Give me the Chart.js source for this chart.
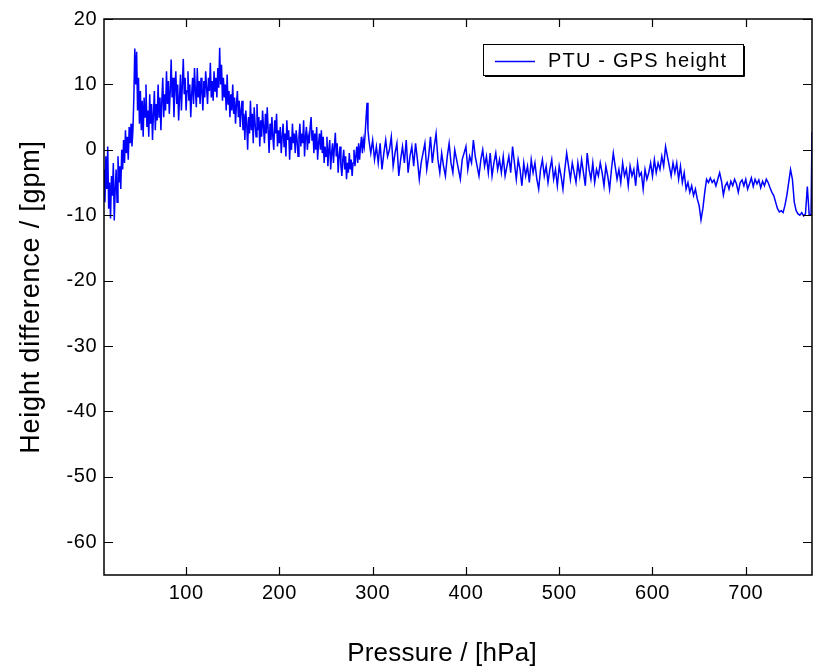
<!DOCTYPE html>
<html><head><meta charset="utf-8">
<script src="https://cdn.jsdelivr.net/npm/chart.js@4/dist/chart.umd.min.js"></script>
<style>html,body{margin:0;padding:0;background:#fff;}#wrap{width:817px;height:667px;}</style>
</head><body><div id="wrap"><canvas id="c" width="817" height="667"></canvas></div>
<script>
const pressure = [
12,13,14,15,16,17,18,19,20,21,22,23,24,25,26,27,28,29,30,31,32,33,34,35,36,37,38,39,40,
41,42,43,44,45,46,47,48,49,50,51,52,53,54,55,56,57,58,59,60,61,62,63,64,65,66,67,68,69,70,71,72,73,74,75,76,77,78,79,
80,81,82,83,84,85,86,87,88,89,90,91,92,93,94,95,96,97,98,99,100,101,102,103,104,105,106,107,108,109,110,111,112,113,114,115,116,117,118,119,
120,121,122,123,124,125,126,127,128,129,130,131,132,133,134,135,136,137,138,139,140,141,142,143,144,145,146,147,148,149,150,151,152,153,154,155,156,157,158,
159,160,161,162,163,164,165,166,167,168,169,170,171,172,173,174,175,176,177,178,179,180,181,182,183,184,185,186,187,188,189,190,191,192,193,194,195,196,197,198,199,200,
201,202,203,204,205,206,207,208,209,210,211,212,213,214,215,216,217,218,219,220,221,222,223,224,225,226,227,228,229,230,231,232,233,234,235,236,237,238,239,240,241,242,243,244,245,246,247,
248,249,250,251,252,253,254,255,256,257,258,259,260,261,262,263,264,265,266,267,268,269,270,271,272,273,274,275,276,277,278,279,280,281,282,283,284,285,286,287,288,289,290,291,292,293,294,295,296,
298,300,302,304,306,308,310,312,314,316,318,320,322,324,326,328,330,332,334,336,338,340,342,344,346,348,350,352,354,356,358,360,362,364,366,368,
370,372,374,376,378,380,382,384,386,388,390,392,394,396,398,400,402,404,406,408,410,412,414,416,418,420,422,424,426,428,430,432,434,436,
438,440,442,444,446,448,450,452,454,456,458,460,462,464,466,468,470,472,474,476,478,480,482,484,486,488,490,492,494,496,498,500,502,504,506,508,
510,512,514,516,518,520,522,524,526,528,530,532,534,536,538,540,542,544,546,548,550,552,554,556,558,560,562,564,566,568,570,572,574,576,578,580,582,584,586,588,590,592,594,596,
598,600,602,604,606,608,610,612,614,616,618,620,622,624,626,628,630,
632,634,636,638,640,642,644,646,648,650,652,654,656,658,660,
662,664,666,668,670,672,674,676,678,680,682,684,686,688,690,692,694,696,698,700,702,704,706,708,710,712,714,716,718,720,722,724,726,728,
730,732,734,736,738,740,742,744,746,748,750,752,754,756,758,760,762,764,766,768,770,
771
];
const heightDiff = [
-3,-8,-1,-6,0.5,-9,-5,-10.5,-4,-7,-2,-10.8,-6,-3,-8,-1,-5,-2.5,-6,0,-3,1.5,-2,3,-0.5,2,-1.5,3.5,1,
4,0.5,3,8,15.5,10,15,6,11,4,9,3,7.5,2,8,5,10,3.5,6,2,8.5,4,7,1.5,5.5,9,3,7,4.5,10,5,8,3,7.5,11,5,8.5,6,12,
7,10.5,5.5,9,13.8,8,11,5,9.5,12,7,10,4.5,8,11.5,6,10,13.9,8.5,11,6,9,12,7.5,10,5,8.5,11,7,12.5,9,6.5,12.5,8,10.5,7,11,9,6,10.5,
8,12,9.5,7,11,9,13.3,8,10.5,7.5,12,9,11,8,12.5,9.5,15.6,10,13,7.5,11,8,10,6,11.5,7,9,5,8.5,6,10,5.5,8,4,7,9,5,7.5,3.5,
6,7.5,3,5.5,1.5,6,4,0,5,2.5,7.5,3,5.5,1,6.5,4,2,7,3,5,0.5,4.5,2,6,3.5,1,5.5,2.5,6.5,3,-0.5,4,1.5,5,2,0,4.5,2.5,5.5,0.5,3,1,
3.5,-0.5,2,4,0.5,2.5,-1,4.5,1.5,3,-1.5,2,0,4,1,2.5,-0.5,3,1.5,-1,2,4,0.5,2.5,1,4.5,-1,2,3.5,0,2,1,3.5,5,1.5,3,-0.5,2.5,0,3.5,-1.5,1,2.5,0,3,-0.5,2,
-2,0.5,-1,2,-2.5,0,1.5,-3,-0.5,1,-2,0.5,2.6,-1,1,-3.5,-1,0.5,-2.5,-4,-1.5,0,-3,-1,-4.5,-2,-3.5,-0.5,-3,-1.5,-4,-2,0,-2.5,-1,0.5,-2,1,-1.5,0.5,2,-0.5,1.5,0.5,2.5,5,7.2,3,1.5,
-0.5,1.5,-1.5,0.5,-2,1,-3,-0.5,1.5,-1,0,2,-2.5,-0.5,1,-4,-1.5,0.5,-2,1.5,-3.5,-1,0.5,-2.5,1,-1.5,-4.5,-2,-0.5,1,-3,-1,2,-2,0.5,2.5,
-1.5,-3.5,-0.5,-2.5,-4,-1,1,-2,-3.5,0,-1.5,-3,-4.5,-1.5,-0.5,0.5,-3,-1,-2,1.5,-1,-2.5,-4,-1.5,0,-2.5,-1,-3.5,-0.5,-4,-2,-0.5,-3,-1.5,
-3.5,-1,-4,-2.5,-1,-3.5,0.5,-2,-4.5,-1.5,-3,-5.5,-2,-4,-2.5,-5,-1.5,-3.5,-2,-4.5,-6,-3,-1.5,-4,-2.5,-5,-3,-1.5,-4.5,-3,-5.5,-2.5,-4,-6,-3,-0.5,
-2.5,-4.5,-2,-3.5,-5,-2,-4,-1.5,-3.5,-5.5,-0.5,-3,-4.5,-2,-5,-3,-4,-2,-3.5,-5.5,-2.5,-4,-6,-3,-0.5,-2.5,-4.5,-3,-5,-2,-4,-3,-5.5,-2.5,-4,-3,-5.5,-2,-4,-3.5,-6,-3,-4.5,-3.5,
-2,-4,-1.5,-3.5,-2,-3,-1,-2.5,0.5,-1,-2.5,-4,-2,-3.5,-2,-4.5,-2.5,
-5,-3.5,-6,-5,-6.5,-5.5,-7,-6,-7.5,-8.5,-10.7,-9,-6.5,-4.5,-5,
-4.3,-5,-4.6,-5.5,-4.5,-3.5,-4.8,-6.9,-5.5,-5,-6,-4.8,-5.5,-4.5,-5.2,-6.5,-5,-4.6,-5.5,-4.5,-6,-5.2,-4.3,-5.6,-4.5,-5.2,-4.6,-5.8,-4.8,-5.5,-4.5,-5,-5.8,-6.5,
-7,-8,-9,-9.5,-9.3,-9.6,-8.5,-7,-5,-3,-4.5,-8,-9.3,-9.8,-10,-9.6,-10.1,-9.8,-5.6,-10,-9.9,
2.8
];
const xTicks = [100,200,300,400,500,600,700];
const yTicks = [-60,-50,-40,-30,-20,-10,0,10,20];
const xRange = [12, 771];
const yRange = [-65, 20];
const seriesLabel = 'PTU - GPS height';
const xTitle = 'Pressure / [hPa]';
const yTitle = 'Height difference / [gpm]';

const FONT = 'Liberation Sans, Arial, sans-serif';
const points = pressure.map((p, i) => ({x: p, y: heightDiff[i]}));

const framePlugin = {
  id: 'frame',
  beforeDraw(chart) {
    try { chart.ctx.letterSpacing = '0.5px'; } catch (e) {}
  },
  afterDatasetsDraw(chart) {
    const ctx = chart.ctx;
    const {left, right, top, bottom} = chart.chartArea;
    const xs = chart.scales.x, ys = chart.scales.y;
    ctx.save();
    ctx.strokeStyle = '#000';
    ctx.lineWidth = 1.5;
    ctx.strokeRect(left, top, right - left, bottom - top);
    ctx.lineWidth = 1.2;
    ctx.beginPath();
    xTicks.forEach(v => {
      const px = Math.round(xs.getPixelForValue(v)) + 0.5;
      ctx.moveTo(px, bottom); ctx.lineTo(px, bottom - 8);
      ctx.moveTo(px, top); ctx.lineTo(px, top + 8);
    });
    yTicks.forEach(v => {
      const py = Math.round(ys.getPixelForValue(v)) + 0.5;
      ctx.moveTo(left, py); ctx.lineTo(left + 9, py);
      ctx.moveTo(right, py); ctx.lineTo(right - 9, py);
    });
    ctx.stroke();
    ctx.restore();
  },
  afterDraw(chart) {
    const ctx = chart.ctx;
    const {left, right, top, bottom} = chart.chartArea;
    ctx.save();
    // axis titles
    ctx.fillStyle = '#000';
    ctx.font = '26px ' + FONT;
    ctx.textAlign = 'center';
    ctx.textBaseline = 'middle';
    try { ctx.letterSpacing = '0.2px'; } catch (e) {}
    ctx.fillText(xTitle, (left + right) / 2 - 16, chart.height - 13);
    ctx.save();
    ctx.translate(32, (top + bottom) / 2);
    ctx.rotate(-Math.PI / 2);
    ctx.font = '27px ' + FONT;
    try { ctx.letterSpacing = '0.8px'; } catch (e) {}
    ctx.fillText(yTitle, 0, 0);
    ctx.restore();
    // legend
    const bx = right - 329, by = top + 25, bw = 260, bh = 31;
    ctx.fillStyle = '#fff';
    ctx.fillRect(bx, by, bw, bh);
    ctx.strokeStyle = '#000';
    ctx.lineWidth = 1;
    ctx.strokeRect(bx + 0.5, by + 0.5, bw, bh);
    ctx.beginPath();
    ctx.moveTo(bx + bw + 1.5, by + 2); ctx.lineTo(bx + bw + 1.5, by + bh + 1.5); ctx.lineTo(bx + 2, by + bh + 1.5);
    ctx.stroke();
    ctx.strokeStyle = '#0000ff';
    ctx.lineWidth = 1.5;
    ctx.beginPath();
    ctx.moveTo(bx + 12, by + 17.5); ctx.lineTo(bx + 52, by + 17.5);
    ctx.stroke();
    ctx.fillStyle = '#000';
    ctx.font = '20px ' + FONT;
    ctx.textAlign = 'left';
    ctx.textBaseline = 'alphabetic';
    try { ctx.letterSpacing = '1.2px'; } catch (e) {}
    ctx.fillText(seriesLabel, bx + 65, by + 23);
    ctx.restore();
    try { ctx.letterSpacing = '0px'; } catch (e) {}
  }
};

new Chart(document.getElementById('c'), {
  type: 'line',
  data: {
    datasets: [{
      label: seriesLabel,
      data: points,
      borderColor: '#0000ff',
      borderWidth: 1.5,
      pointRadius: 0,
      fill: false,
      tension: 0
    }]
  },
  options: {
    responsive: false,
    animation: false,
    layout: {padding: {left: 0, top: 19, right: 5, bottom: 0}},
    plugins: {legend: {display: false}, tooltip: {enabled: false}},
    scales: {
      x: {
        type: 'linear', min: xRange[0], max: xRange[1],
        afterBuildTicks: s => { s.ticks = xTicks.map(v => ({value: v})); },
        afterFit: s => { s.height = 92; },
        grid: {display: false, drawTicks: false},
        border: {display: false},
        ticks: {color: '#000', font: {family: FONT, size: 20}, padding: 6, maxRotation: 0, autoSkip: false}
      },
      y: {
        type: 'linear', min: yRange[0], max: yRange[1],
        afterBuildTicks: s => { s.ticks = yTicks.map(v => ({value: v})); },
        afterFit: s => { s.width = 104; },
        grid: {display: false, drawTicks: false},
        border: {display: false},
        ticks: {color: '#000', font: {family: FONT, size: 20}, padding: 7, autoSkip: false}
      }
    }
  },
  plugins: [framePlugin]
});
</script></body></html>
